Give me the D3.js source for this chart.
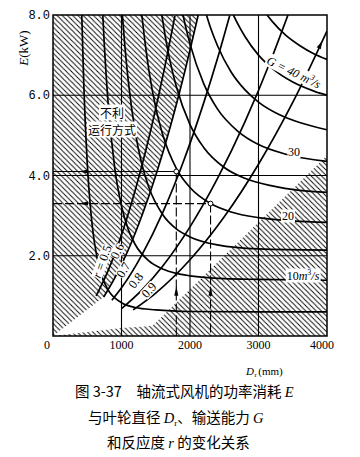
<!DOCTYPE html>
<html><head><meta charset="utf-8">
<script src="https://cdn.jsdelivr.net/npm/d3@7"></script>
<style>body{margin:0;background:#fff}svg{display:block}</style>
</head><body>
<script>
const W = 360, H = 457;
// ---- data ----
const xTicks = [0, 1000, 2000, 3000, 4000];
const yTicks = [2, 4, 6, 8];
const yTickLabels = ["2.0", "4.0", "6.0", "8.0"];
// constant-flow curves G (m3/s): [D (mm), E (kW)]
const gNames = [5, 10, 15, 20, 25, 30, 35, 40, 45];
const g5  = [[420,8.0],[450,6.24],[500,4.30],[550,3.13],[600,2.38],[700,1.56],[800,1.16],[1000,0.83],[1200,0.71],[1500,0.65],[2000,0.61],[3000,0.60],[4000,0.60]];
const g10 = [[727,8.0],[750,7.23],[800,5.90],[900,4.20],[1000,3.24],[1100,2.65],[1200,2.28],[1400,1.87],[1600,1.67],[1800,1.56],[2000,1.50],[2500,1.43],[3000,1.41],[4000,1.39]];
const g15 = [[1013,8.0],[1050,7.21],[1100,6.34],[1200,5.09],[1300,4.26],[1400,3.70],[1600,3.03],[1800,2.67],[2000,2.47],[2400,2.27],[3000,2.17],[4000,2.14]];
const g20 = [[1297,8.0],[1350,7.23],[1400,6.62],[1500,5.69],[1600,5.03],[1800,4.18],[2000,3.70],[2300,3.30],[2600,3.09],[3000,2.95],[3500,2.87],[4000,2.83]];
const g25 = [[1589,8.0],[1650,7.36],[1700,6.92],[1800,6.22],[2000,5.27],[2200,4.70],[2500,4.20],[2800,3.93],[3200,3.74],[3600,3.63],[4000,3.58]];
const g30 = [[1898,8.0],[1950,7.61],[2000,7.28],[2200,6.29],[2400,5.66],[2700,5.10],[3000,4.77],[3400,4.53],[4000,4.35]];
const g35 = [[2240,8.0],[2300,7.68],[2400,7.24],[2600,6.58],[2800,6.14],[3000,5.83],[3300,5.52],[3600,5.32],[4000,5.14]];
const g40 = [[2634,8.0],[2700,7.77],[2800,7.47],[3000,7.00],[3200,6.67],[3500,6.33],[3800,6.11],[4000,6.00]];
const g45 = [[3125,8.0],[3200,7.84],[3400,7.49],[3600,7.24],[3800,7.04],[4000,6.89]];
// constant reaction-degree curves r
const rNames = ["r = 0.5", "0.6", "0.7", "0.8", "0.9"];
const r5 = [[630,1.0],[800,1.61],[1000,2.52],[1200,3.63],[1400,4.94],[1600,6.45],[1780,7.98]];
const r6 = [[740,0.97],[900,1.44],[1100,2.15],[1300,3.01],[1500,4.0],[1700,5.14],[1900,6.43],[2120,8.0]];
const r7 = [[860,0.89],[1000,1.2],[1300,2.03],[1600,3.07],[1900,4.33],[2200,5.81],[2400,6.91],[2580,7.99]];
const r8 = [[1000,0.68],[1300,1.15],[1600,1.74],[2000,2.72],[2400,3.92],[2800,5.33],[3200,6.96],[3430,8.0]];
const r9 = [[1170,0.65],[1500,1.07],[2000,1.90],[2500,2.97],[3000,4.28],[3500,5.82],[4000,7.6]];
// lower-right unfavourable boundary
const lowerHatch = [[0,0],[1000,0.2],[1450,0.25],[4000,4.5],[4000,0]];
// operating points
const opPoints = [[1800,4.1],[2300,3.3]];
const arrowOnR9 = [3930, 7.35];

// ---- drawing ----
const svg = d3.select("body").append("svg").attr("width", W).attr("height", H);
const x = d3.scaleLinear().domain([0, 4000]).range([53, 327]);
const y = d3.scaleLinear().domain([0, 8]).range([336, 15]);
const defs = svg.append("defs");
const pat = defs.append("pattern").attr("id", "hatch").attr("patternUnits", "userSpaceOnUse")
  .attr("width", 5.2).attr("height", 5.2);
pat.append("path").attr("d", "M-1,-1L6.2,6.2M-1,4.2L1,6.2M4.2,-1L6.2,1").attr("stroke", "#000").attr("stroke-width", 0.9);
defs.append("clipPath").attr("id", "plot").append("rect")
  .attr("x", x(0)).attr("y", y(8)).attr("width", x(4000) - x(0)).attr("height", y(0) - y(8));

const line = d3.line().x(d => x(d[0])).y(d => y(d[1])).curve(d3.curveMonotoneX);
const plot = svg.append("g").attr("clip-path", "url(#plot)");

// hatched regions
plot.append("path")
  .attr("d", line(r6) + `L${x(0)},${y(8)}L${x(0)},${y(0)}Z`)
  .attr("fill", "url(#hatch)");
plot.append("path")
  .attr("d", d3.line().x(d => x(d[0])).y(d => y(d[1]))(lowerHatch) + "Z")
  .attr("fill", "url(#hatch)");

// grid
const grid = plot.append("g").attr("stroke", "#000").attr("stroke-width", 1.1);
[1000, 2000, 3000].forEach(v => grid.append("line").attr("x1", x(v)).attr("x2", x(v)).attr("y1", y(0)).attr("y2", y(8)));
[2, 4, 6].forEach(v => grid.append("line").attr("y1", y(v)).attr("y2", y(v)).attr("x1", x(0)).attr("x2", x(4000)));

// curves
const curves = plot.append("g").attr("fill", "none").attr("stroke", "#000").attr("stroke-width", 1.7);
[g5, g10, g15, g20, g25, g30, g35, g40, g45].forEach(c => curves.append("path").attr("d", line(c)));
[r5, r6, r7, r8, r9].forEach(c => curves.append("path").attr("d", line(c)));

// arrowheads
function arrow(px, py, ang, len = 8, hw = 2.3) {
  const c = Math.cos(ang), s = Math.sin(ang);
  const bx = px - c * len, by = py - s * len;
  plot.append("path").attr("d",
    `M${px},${py}L${bx - s * hw},${by + c * hw}L${bx + s * hw},${by - c * hw}Z`).attr("fill", "#000");
}
// operating point construction lines
const dl = plot.append("g").attr("stroke", "#000").attr("stroke-width", 1.1).attr("fill", "none");
opPoints.forEach((p, i) => {
  dl.append("line").attr("x1", x(0)).attr("x2", x(p[0])).attr("y1", y(p[1])).attr("y2", y(p[1]))
    .attr("stroke-dasharray", i === 0 ? null : "9,3");
  dl.append("line").attr("x1", x(p[0])).attr("x2", x(p[0])).attr("y1", y(p[1])).attr("y2", y(0))
    .attr("stroke-dasharray", "9,3");
  arrow(x(380), y(p[1]), Math.PI, 9, 2);
  arrow(x(p[0]), y(1.25), -Math.PI / 2, 10, 2);
});
opPoints.forEach(p => plot.append("circle").attr("cx", x(p[0])).attr("cy", y(p[1])).attr("r", 2.4)
  .attr("fill", "#fff").attr("stroke", "#000").attr("stroke-width", 1));
{
  const a = r9[r9.length - 2], b = r9[r9.length - 1];
  const ang = Math.atan2(y(b[1]) - y(a[1]), x(b[0]) - x(a[0]));
  arrow(x(arrowOnR9[0]), y(arrowOnR9[1]), ang, 8, 2.3);
}

// border
svg.append("rect").attr("x", x(0)).attr("y", y(8)).attr("width", x(4000) - x(0)).attr("height", y(0) - y(8))
  .attr("fill", "none").attr("stroke", "#000").attr("stroke-width", 1.5);

// labels inside plot
const serif = "'Liberation Serif','DejaVu Serif',serif";
const cjk = "'Noto Sans CJK SC','Noto Sans',sans-serif";
function bgText(g, tx, ty, rot, build, pad) {
  const gg = g.append("g").attr("transform", `translate(${tx},${ty}) rotate(${rot})`);
  const r = gg.append("rect").attr("fill", "#fff");
  const t = gg.append("text").attr("text-anchor", "middle");
  build(t);
  const bb = t.node().getBBox();
  r.attr("x", bb.x - pad).attr("y", bb.y - pad + 1.5).attr("width", bb.width + 2 * pad).attr("height", bb.height + 2 * pad - 3);
  return gg;
}
const lab = svg.append("g");
bgText(lab, 112, 118, 0, t => t.attr("font-family", cjk).attr("font-size", 12).text("不利"), 1);
bgText(lab, 112, 135, 0, t => t.attr("font-family", cjk).attr("font-size", 12).text("运行方式"), 1);
bgText(lab, 292, 76, 26, t => {
  t.attr("font-family", serif).attr("font-size", 12).attr("font-style", "italic");
  t.append("tspan").text("G = 40 m");
  t.append("tspan").attr("font-size", 8).attr("dy", -5).text("3");
  t.append("tspan").attr("dy", 5).text("/s");
}, 1);
bgText(lab, 294, 156, 0, t => t.attr("font-family", serif).attr("font-size", 12).text(gNames[5]), 0.5);
bgText(lab, 288, 220, 0, t => t.attr("font-family", serif).attr("font-size", 12).text(gNames[3]), 1);
bgText(lab, 303, 280, 0, t => {
  t.attr("font-family", serif).attr("font-size", 12);
  t.append("tspan").text(gNames[1]);
  t.append("tspan").attr("font-style", "italic").text("m");
  t.append("tspan").attr("font-size", 8).attr("dy", -5).text("3");
  t.append("tspan").attr("dy", 5).attr("font-style", "italic").text("/s");
}, 1);
const rPos = [[106, 259, -70], [121, 249, -64], [127, 268, -60], [139, 279, -52], [152, 289, -47]];
rNames.forEach((n, i) => {
  bgText(lab, rPos[i][0], rPos[i][1] + 4, rPos[i][2], t => {
    t.attr("font-family", serif).attr("font-size", 12.5);
    if (i === 0) { t.append("tspan").attr("font-style", "italic").text("r"); t.append("tspan").text(n.slice(1)); }
    else t.text(n);
  }, 0);
});

// axes labels
const ax = svg.append("g").attr("font-family", serif).attr("font-size", 12).attr("fill", "#000");
yTicks.forEach((v, i) => ax.append("text").attr("x", x(0) - 3).attr("y", y(v) + 4).attr("text-anchor", "end")
  .attr("font-family", "'Liberation Mono',monospace").text(yTickLabels[i]));
xTicks.forEach(v => ax.append("text").attr("x", v === 0 ? x(0) - 6 : (v === 4000 ? x(v) - 5 : x(v))).attr("y", 349)
  .attr("text-anchor", "middle").text(v));
{
  const t = ax.append("text").attr("transform", `translate(28,48) rotate(-90)`).attr("text-anchor", "middle").attr("font-size", 13);
  t.append("tspan").attr("font-style", "italic").text("E");
  t.append("tspan").text("(kW)");
  const t2 = ax.append("text").attr("x", 246).attr("y", 375).attr("font-size", 11);
  t2.append("tspan").attr("font-style", "italic").text("D");
  t2.append("tspan").attr("font-size", 7).attr("dy", 2).attr("dx", 0.5).text("r");
  t2.append("tspan").attr("dy", -2).attr("dx", 1.5).text("(mm)");
}
// caption
const cap = svg.append("g").attr("font-family", cjk).attr("font-size", 14.5).attr("fill", "#000");
{
  const t1 = cap.append("text").attr("x", 75).attr("y", 397);
  t1.append("tspan").text("图 3-37　轴流式风机的功率消耗 ");
  t1.append("tspan").attr("font-family", serif).attr("font-style", "italic").text("E");
  const t2 = cap.append("text").attr("x", 88).attr("y", 423);
  t2.append("tspan").text("与叶轮直径 ");
  t2.append("tspan").attr("font-family", serif).attr("font-style", "italic").text("D");
  t2.append("tspan").attr("font-family", serif).attr("font-size", 9).attr("dy", 3).text("r");
  t2.append("tspan").attr("dy", -3).text("、输送能力 ");
  t2.append("tspan").attr("font-family", serif).attr("font-style", "italic").text("G");
  const t3 = cap.append("text").attr("x", 107).attr("y", 448);
  t3.append("tspan").text("和反应度 ");
  t3.append("tspan").attr("font-family", serif).attr("font-style", "italic").text("r");
  t3.append("tspan").text(" 的变化关系");
}
</script>
</body></html>
